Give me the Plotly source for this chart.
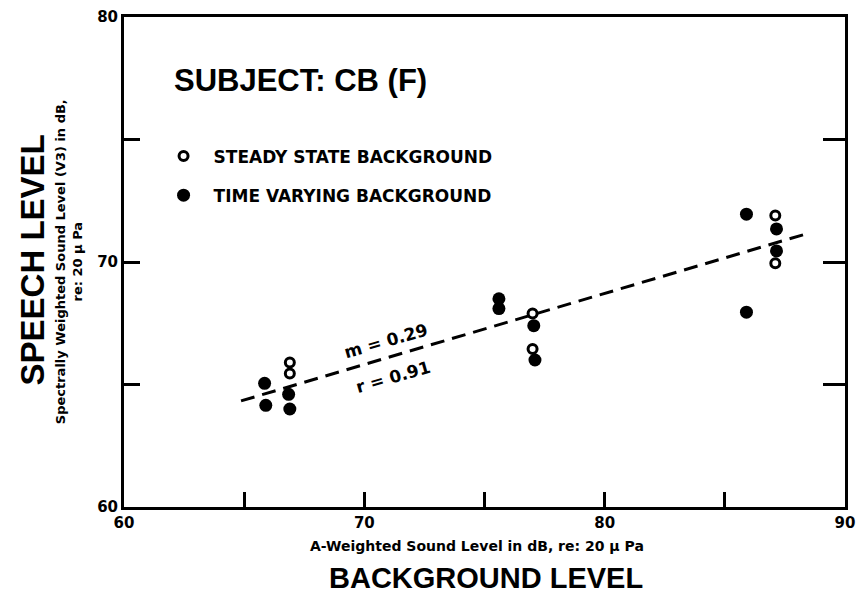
import plotly.graph_objects as go

# ---- data ----
steady_x = [66.9, 66.9, 77.0, 77.0, 87.1, 87.1]
steady_y = [65.9, 65.45, 67.9, 66.45, 71.9, 69.95]

varying_x = [65.85, 65.9, 66.85, 66.9, 75.6, 75.6, 77.05, 77.1, 85.9, 85.9, 87.15, 87.15]
varying_y = [65.05, 64.15, 64.6, 64.0, 68.5, 68.1, 67.4, 66.0, 71.95, 67.95, 71.35, 70.45]

fit_x = [64.87, 88.46]
fit_y = [64.33, 71.17]

x_tickvals = [60, 65, 70, 75, 80, 85, 90]
x_ticktext = ["60", "", "70", "", "80", "", "90"]
y_tickvals = [60, 65, 70, 75, 80]
y_ticktext = ["60", "", "70", "", "80"]

legend_names = ["STEADY STATE BACKGROUND", "TIME VARYING BACKGROUND"]
subject_title = "SUBJECT: CB (F)"
slope_text = "m = 0.29"
corr_text = "r = 0.91"

HELV = "Liberation Sans, Arial, Helvetica, sans-serif"
FUT = "DejaVu Sans, Verdana, sans-serif"

fig = go.Figure()

fig.add_trace(go.Scatter(
    x=fit_x, y=fit_y, mode="lines", yaxis="y2",
    line=dict(color="black", width=3, dash="14px,8px"),
    showlegend=False, hoverinfo="skip"))

fig.add_trace(go.Scatter(
    x=steady_x, y=steady_y, mode="markers", name=legend_names[0],
    legendgroup="a",
    marker=dict(symbol="circle-open", size=9, color="black",
                line=dict(width=3, color="black"))))

fig.add_trace(go.Scatter(
    x=varying_x, y=varying_y, mode="markers", name=legend_names[1],
    legendgroup="b",
    marker=dict(symbol="circle", size=13, color="black")))

axis_common = dict(showgrid=False, zeroline=False, showline=True,
                   linecolor="black", linewidth=3, mirror=True, automargin=False,
                   ticks="inside", tickcolor="black", tickwidth=2.5,
                   tickfont=dict(family=FUT, size=15, color="black", weight="bold"))

fig.update_layout(
    width=857, height=598,
    margin=dict(l=124, r=12, t=17, b=91),
    paper_bgcolor="white", plot_bgcolor="white",
    xaxis=dict(range=[60, 90], tickvals=x_tickvals, ticktext=x_ticktext,
               ticklen=15, **axis_common),
    yaxis=dict(range=[60, 80], tickvals=y_tickvals, ticktext=y_ticktext,
               ticklen=16, **axis_common),
    yaxis2=dict(range=[60, 80], overlaying="y", side="right", automargin=False,
                tickvals=y_tickvals, showticklabels=False, ticks="inside",
                ticklen=22, tickwidth=2.5, tickcolor="black",
                showgrid=False, zeroline=False, showline=False),
    showlegend=True,
    legend=dict(x=0.041, y=0.752, xanchor="left", yanchor="top",
                traceorder="grouped", tracegroupgap=14, itemwidth=50,
                bgcolor="rgba(0,0,0,0)",
                font=dict(family=FUT, size=17, color="black", weight="bold")),
)

annotations = [
    dict(text=subject_title, xref="paper", yref="paper", x=0.066, y=0.871,
         xanchor="left", yanchor="middle", showarrow=False,
         font=dict(family=HELV, size=31, color="black", weight="bold")),
    dict(text=slope_text, xref="x", yref="y", x=70.9, y=66.78,
         textangle=-16, showarrow=False,
         font=dict(family=FUT, size=17, color="black", weight="bold")),
    dict(text=corr_text, xref="x", yref="y", x=71.2, y=65.3,
         textangle=-16, showarrow=False,
         font=dict(family=FUT, size=17, color="black", weight="bold")),
    dict(text="BACKGROUND LEVEL", xref="paper", yref="paper", x=0.502, y=-0.145,
         xanchor="center", yanchor="middle", showarrow=False,
         font=dict(family=HELV, size=29, color="black", weight="bold")),
    dict(text="A-Weighted Sound Level in dB, re: 20 \u03bc Pa", xref="paper", yref="paper",
         x=0.49, y=-0.080, xanchor="center", yanchor="middle", showarrow=False,
         font=dict(family=FUT, size=14, color="black", weight="bold")),
    dict(text="SPEECH LEVEL", xref="paper", yref="paper", x=-0.127, y=0.504,
         xanchor="center", yanchor="middle", textangle=-90, showarrow=False,
         font=dict(family=HELV, size=33, color="black", weight="bold")),
    dict(text="Spectrally Weighted Sound Level (V3) in dB,<br>re: 20 \u03bc Pa",
         xref="paper", yref="paper", x=-0.076, y=0.50,
         xanchor="center", yanchor="middle", textangle=-90, showarrow=False,
         font=dict(family=FUT, size=13, color="black", weight="bold")),
]
fig.update_layout(annotations=annotations)

fig.write_html("out.html",
               config={"displayModeBar": False},
               post_script="document.body.style.margin='0';document.body.style.overflow='hidden';")
